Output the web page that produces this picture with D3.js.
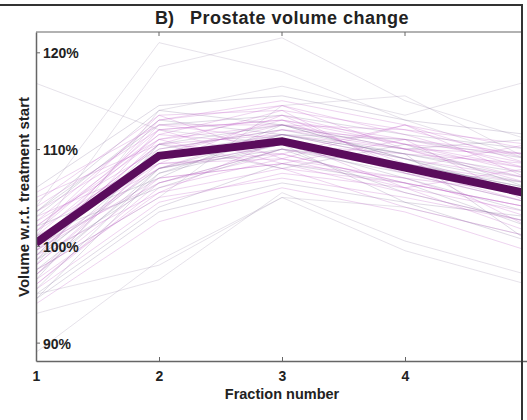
<!DOCTYPE html>
<meta charset="utf-8">
<script src="https://d3js.org/d3.v7.min.js"></script>
<style>
body { margin: 0; background: #fff; }
svg text { font-family: "Liberation Sans", Arial, sans-serif; font-weight: bold; fill: #222; }
</style>
<div id="plot"></div>
<script>
// fraction numbers on the x axis
var fractions = [1, 2, 3, 4, 5];
var xTicks = [1, 2, 3, 4];
var yTicks = [90, 100, 110, 120];

// mean volume (% of treatment start)
var meanVolume = [100.3, 109.3, 110.8, 108.1, 105.4];

// individual patients (% of treatment start)
var patients = [
  [116.8, 112.0, 110.5, 108.0, 106.5],
  [89.0, 98.5, 105.0, 104.0, 101.0],
  [104.0, 121.0, 118.0, 113.0, 109.0],
  [101.0, 118.5, 121.5, 115.0, 111.0],
  [98.0, 114.0, 116.5, 113.5, 117.0],
  [95.0, 98.0, 105.0, 99.5, 96.0],
  [93.0, 96.5, 105.5, 100.5, 97.0],
  [97.5, 105.0, 114.5, 115.5, 109.0],
  [100.5, 110.5, 111.5, 109.0, 107.0],
  [99.0, 108.0, 110.0, 107.5, 104.5],
  [102.0, 111.0, 112.5, 110.0, 108.0],
  [96.0, 106.0, 109.0, 107.0, 103.0],
  [98.5, 109.5, 110.5, 108.5, 106.0],
  [101.5, 112.0, 113.0, 111.0, 109.5],
  [97.0, 107.0, 108.5, 105.5, 102.5],
  [103.5, 112.5, 113.5, 111.5, 110.0],
  [100.0, 109.0, 111.0, 108.0, 105.0],
  [95.5, 104.5, 107.5, 106.0, 101.5],
  [99.5, 110.0, 112.0, 109.5, 107.5],
  [104.5, 113.5, 114.0, 112.0, 109.0],
  [98.0, 108.5, 109.5, 106.5, 104.0],
  [94.5, 103.5, 106.5, 104.5, 100.5],
  [101.0, 111.5, 110.5, 108.5, 106.5],
  [102.5, 110.0, 112.0, 111.0, 108.5],
  [97.5, 107.5, 111.5, 109.0, 105.5],
  [100.5, 108.5, 109.0, 106.0, 103.5],
  [99.0, 111.0, 113.5, 110.5, 108.0],
  [103.0, 113.0, 111.5, 109.5, 107.0],
  [96.5, 105.5, 108.0, 104.0, 101.0],
  [105.5, 112.5, 112.5, 110.5, 109.5],
  [98.5, 106.5, 110.0, 108.5, 106.0],
  [100.0, 112.5, 111.0, 107.5, 104.5],
  [101.5, 109.5, 112.5, 112.0, 110.5],
  [97.0, 108.0, 110.5, 107.0, 103.5],
  [99.5, 107.0, 108.5, 107.0, 105.5],
  [102.0, 111.5, 114.5, 111.5, 108.0],
  [95.0, 104.0, 108.5, 106.5, 102.0],
  [100.5, 110.5, 109.5, 106.5, 104.0],
  [98.0, 109.0, 111.5, 110.0, 107.0],
  [103.5, 114.0, 112.5, 109.0, 106.5],
  [96.0, 106.5, 110.0, 108.0, 104.5],
  [101.0, 108.0, 110.5, 109.5, 108.5],
  [99.0, 110.5, 112.5, 109.0, 105.0],
  [104.0, 112.0, 113.0, 110.5, 107.5],
  [97.5, 105.0, 107.0, 105.0, 102.5],
  [100.0, 109.5, 111.5, 111.0, 109.0],
  [102.5, 113.0, 115.0, 112.5, 110.0],
  [94.0, 102.5, 106.0, 103.5, 99.5],
  [106.0, 114.5, 115.5, 113.0, 111.5],
  [99.5, 108.0, 112.0, 110.0, 106.5],
  [103.0, 108.5, 113.5, 108.0, 110.5],
  [96.5, 110.5, 108.0, 110.5, 106.0],
  [99.0, 105.5, 111.0, 106.0, 108.0],
  [101.5, 113.5, 109.0, 112.5, 107.0],
  [94.5, 107.5, 110.5, 104.5, 103.0],
  [105.0, 110.5, 114.0, 107.5, 105.5],
  [98.5, 112.0, 108.5, 111.0, 104.5],
  [102.0, 107.0, 112.5, 110.0, 111.0],
  [97.0, 109.5, 113.0, 108.5, 102.0],
  [100.0, 106.5, 109.5, 112.5, 108.5],
  [95.5, 108.0, 111.5, 109.5, 100.5],
  [103.5, 111.0, 108.0, 106.5, 104.0],
  [99.5, 113.0, 114.5, 110.0, 109.5],
  [101.0, 106.0, 110.0, 105.5, 102.5]
];

var width = 527, height = 420;
var plotLeft = 36, plotTop = 32, plotBottom = 361, plotRight = 522;

var svg = d3.select("#plot").append("svg")
    .attr("width", width)
    .attr("height", height);

var x = d3.scaleLinear().domain([1, 5]).range([plotLeft, 528]);
var y = d3.scaleLinear().domain([88.1, 122.1]).range([plotBottom, plotTop]);

svg.append("clipPath").attr("id", "clip")
  .append("rect")
    .attr("x", plotLeft).attr("y", plotTop)
    .attr("width", plotRight - plotLeft).attr("height", plotBottom - plotTop);

var line = d3.line()
    .x(function(d, i) { return x(fractions[i]); })
    .y(function(d) { return y(d); });

var lines = svg.append("g").attr("clip-path", "url(#clip)");

// thin patient lines
lines.selectAll(".patient")
  .data(patients)
  .enter().append("path")
    .attr("class", "patient")
    .attr("d", line)
    .attr("fill", "none")
    .attr("stroke", function(d, i) { return i < 8 ? "#9a8caa" : (i % 3 == 0 ? "#8a78a0" : "#c060c8"); })
    .attr("stroke-opacity", function(d, i) { return i < 8 ? 0.25 : 0.27; })
    .attr("stroke-width", 1);

// mean line
lines.append("path")
    .datum(meanVolume)
    .attr("d", line)
    .attr("fill", "none")
    .attr("stroke", "#5a0c5c")
    .attr("stroke-width", 8)
    .attr("stroke-linejoin", "miter");

// top gray line of the axes box
svg.append("line")
    .attr("x1", plotLeft).attr("x2", plotRight)
    .attr("y1", plotTop).attr("y2", plotTop)
    .attr("stroke", "#999").attr("stroke-width", 1.5);

var xAxis = svg.append("g")
    .attr("transform", "translate(0," + plotBottom + ")")
    .call(d3.axisBottom(x).tickValues(xTicks).tickSizeInner(-4).tickSizeOuter(0).tickPadding(10).tickFormat(d3.format("d")));
xAxis.select(".domain").attr("stroke", "#666").attr("stroke-width", 1.5);
xAxis.selectAll(".tick line").attr("stroke", "#666");
xAxis.selectAll("text").attr("font-size", 14).attr("fill", "#222");

// top ticks
svg.append("g").selectAll("line")
  .data(xTicks.slice(1))
  .enter().append("line")
    .attr("x1", function(d) { return x(d); })
    .attr("x2", function(d) { return x(d); })
    .attr("y1", plotTop).attr("y2", plotTop + 4)
    .attr("stroke", "#666");

var yAxis = svg.append("g")
    .attr("transform", "translate(" + plotLeft + ",0)")
    .call(d3.axisRight(y).tickValues(yTicks).tickSize(4).tickSizeOuter(0).tickPadding(3).tickFormat(function(d) { return d + "%"; }));
yAxis.select(".domain").attr("stroke", "#666").attr("stroke-width", 1.5);
yAxis.selectAll(".tick line").attr("stroke", "#666");
yAxis.selectAll("text").attr("font-size", 14).attr("fill", "#222").attr("dy", "0.4em");

// outer border
svg.append("line")
    .attr("x1", 0).attr("x2", 523)
    .attr("y1", 5).attr("y2", 5)
    .attr("stroke", "#333").attr("stroke-width", 2);
svg.append("line")
    .attr("x1", 522).attr("x2", 522)
    .attr("y1", 4).attr("y2", height)
    .attr("stroke", "#333").attr("stroke-width", 2);

// titles
svg.append("text")
    .attr("x", 155).attr("y", 24)
    .attr("font-size", 18)
    .text("B)");
svg.append("text")
    .attr("x", 190).attr("y", 24)
    .attr("font-size", 18)
    .attr("letter-spacing", 0.5)
    .text("Prostate volume change");

svg.append("text")
    .attr("x", x(3)).attr("y", 399)
    .attr("text-anchor", "middle")
    .attr("font-size", 14.5)
    .text("Fraction number");

svg.append("text")
    .attr("transform", "translate(29," + 197 + ") rotate(-90)")
    .attr("text-anchor", "middle")
    .attr("font-size", 15)
    .text("Volume w.r.t. treatment start");
</script>
